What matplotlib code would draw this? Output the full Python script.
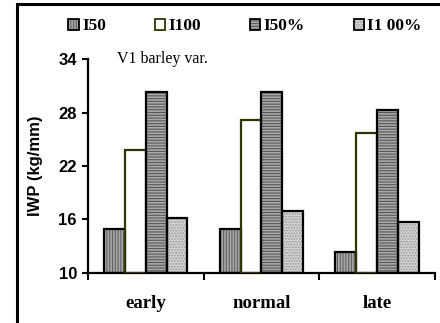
import numpy as np
import matplotlib
matplotlib.use("Agg")
import matplotlib.pyplot as plt
from matplotlib.patches import Rectangle, Patch

# data
categories = ["early", "normal", "late"]
series = ["I50", "I100", "I50%", "I1 00%"]
i50 = [14.9, 14.9, 12.3]
i100 = [23.8, 27.2, 25.7]
i50p = [30.3, 30.3, 28.3]
i100p = [16.2, 16.9, 15.7]
yticks = [10, 16, 22, 28, 34]

plt.rcParams["hatch.linewidth"] = 0.8

fig = plt.figure(figsize=(4.4, 3.23), dpi=100)
ax = fig.add_axes([0.2, 0.155, 0.788, 0.662])

x = np.arange(len(categories)) + 0.5
w = 0.18
styles = [
    dict(fc="#a8a8a8", hc="#626262", hatch="|" * 6, ec="black"),
    dict(fc="white", hc="white", hatch=None, ec="#333300"),
    dict(fc="#a8a8a8", hc="#585858", hatch="-" * 6, ec="black"),
    dict(fc="#d2d2d2", hc="#989898", hatch="." * 6, ec="black"),
]
vals = [i50, i100, i50p, i100p]
handles = []
for k, (v, st) in enumerate(zip(vals, styles)):
    xs = x + (k - 1.5) * w
    h = np.array(v) - 10
    ax.bar(xs, h, w, bottom=10, color=st["fc"], edgecolor=st["hc"],
           hatch=st["hatch"], linewidth=0, zorder=2)
    ax.bar(xs, h, w, bottom=10, fill=False, edgecolor=st["ec"],
           linewidth=1.6, zorder=3)
    handles.append((Patch(facecolor=st["fc"], edgecolor=st["hc"], linewidth=0,
                          hatch=st["hatch"]),
                    Patch(fill=False, edgecolor=st["ec"], linewidth=1.3)))

ax.set_xlim(0, 3)
ax.set_ylim(10, 34)
ax.set_yticks(yticks)
ax.set_yticklabels([str(t) for t in yticks], fontfamily="Liberation Sans",
                   fontweight="bold", fontsize=12)
ax.set_xticks([0, 1, 2, 3])
ax.set_xticklabels([])
ax.set_xticks(x, minor=True)
ax.set_xticklabels(categories, minor=True, fontfamily="Liberation Serif",
                   fontweight="bold", fontsize=13.5)
ax.tick_params(axis="x", which="minor", length=0, pad=16)
ax.tick_params(axis="x", which="major", length=5, width=1.5, direction="out")
ax.tick_params(axis="y", length=4, width=1.5, direction="out", pad=4)
for s in ["top", "right"]:
    ax.spines[s].set_visible(False)
for s in ["left", "bottom"]:
    ax.spines[s].set_linewidth(1.6)
ax.set_ylabel("IWP (kg/mm)", fontfamily="Liberation Sans", fontweight="bold",
              fontsize=12, labelpad=11)
ax.text(0.085, 1.0, "V1 barley var.", transform=ax.transAxes,
        fontfamily="Liberation Serif", fontsize=11.5, va="center", ha="left")

fig.legend(handles, series, loc="center", bbox_to_anchor=(0.557, 0.918), ncol=4,
           frameon=False, handlelength=0.6, handleheight=0.6, handletextpad=0.2,
           columnspacing=2.8, prop=dict(family="Liberation Serif", weight="bold", size=12.5))

fig.patches.append(Rectangle((17 / 440, -0.1), 1.2, 1 - 4 / 323 + 0.1,
                             transform=fig.transFigure, fill=False,
                             edgecolor="black", linewidth=2.2))

fig.savefig("out.png", dpi=100)
